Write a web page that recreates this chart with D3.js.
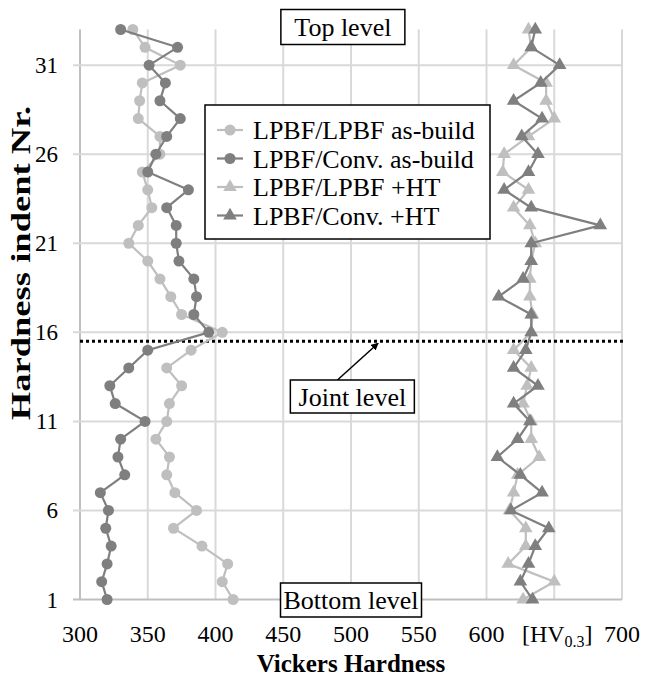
<!DOCTYPE html>
<html><head><meta charset="utf-8">
<script src="https://cdn.jsdelivr.net/npm/d3@7"></script>
<style>body{margin:0;background:#fff}svg{display:block}text{font-family:"Liberation Serif","Times New Roman",serif}</style>
</head><body>
<svg id="c" width="646" height="678"></svg>
<script>
const indentNr = [1,2,3,4,5,6,7,8,9,10,11,12,13,14,15,16,17,18,19,20,21,22,23,24,25,26,27,28,29,30,31,32,33];
const lpbfLpbfAsBuild = [413,405,409,390,369,386,370,364,366,356,364,366,375,364,382,405,375,367,359,350,336,343,353,350,346,359,359,343,344,346,374,348,339];
const lpbfConvAsBuild = [320,316,320,323,319,321,315,333,328,330,348,326,322,336,350,395,384,386,384,373,371,371,364,380,350,356,364,374,359,363,351,372,330];
const lpbfLpbfHT = [627,650,616,629,629,617,620,623,639,633,633,627,630,633,620,633,634,632,632,633,636,632,620,631,612,613,631,650,644,644,620,633,631];
const lpbfConvHT = [634,625,631,636,646,618,641,625,608,623,632,620,638,620,629,633,633,609,627,633,633,684,633,613,631,638,626,641,620,640,654,633,636];
const seriesNames = ["LPBF/LPBF as-build","LPBF/Conv. as-build","LPBF/LPBF +HT","LPBF/Conv. +HT"];
const xTicks = [300,350,400,450,500,550,600,650,700];
const yTicks = [1,6,11,16,21,26,31];
const jointLevel = 15.5;

const series = [
  {name: seriesNames[0], values: lpbfLpbfAsBuild, color:"#bfbfbf", shape:"circle"},
  {name: seriesNames[1], values: lpbfConvAsBuild, color:"#7f7f7f", shape:"circle"},
  {name: seriesNames[2], values: lpbfLpbfHT, color:"#bfbfbf", shape:"triangle"},
  {name: seriesNames[3], values: lpbfConvHT, color:"#7f7f7f", shape:"triangle"}
];

const svg = d3.select("#c");
const x = d3.scaleLinear().domain([300,700]).range([80,622]);
const y = d3.scaleLinear().domain([1,33]).range([599.5,29.5]);

// grid
svg.append("g").selectAll("line").data(xTicks).join("line")
  .attr("x1",d=>x(d)).attr("x2",d=>x(d)).attr("y1",y(33)).attr("y2",y(1))
  .attr("stroke",d=>d===300?"#bfbfbf":"#d9d9d9").attr("stroke-width",2);
svg.append("g").selectAll("line").data(yTicks).join("line")
  .attr("x1",x(300)-7).attr("x2",x(700)).attr("y1",d=>y(d)).attr("y2",d=>y(d))
  .attr("stroke",d=>d===1?"#bfbfbf":"#d9d9d9").attr("stroke-width",2);

// tick labels
svg.append("g").selectAll("text").data(yTicks).join("text")
  .attr("x",x(300)-22).attr("y",d=>y(d)).attr("dy","0.35em")
  .attr("text-anchor","end").attr("font-size",23).text(d=>d);
const xt = svg.append("g").selectAll("text").data(xTicks).join("text")
  .attr("x",d=>x(d)).attr("y",642).attr("text-anchor","middle").attr("font-size",24);
xt.each(function(d){
  const t = d3.select(this);
  if(d===650){
    t.attr("x",x(d)+3);
    t.append("tspan").text("[HV");
    t.append("tspan").attr("font-size",16).attr("dy",5).text("0.3");
    t.append("tspan").attr("dy",-5).text("]");
  } else t.text(d);
});

// titles
svg.append("text").attr("x",351).attr("y",672).attr("text-anchor","middle")
  .attr("font-size",25).attr("font-weight","bold").text("Vickers Hardness");
svg.append("text").attr("transform","translate(30,263) rotate(-90) scale(1.38,1)").attr("text-anchor","middle")
  .attr("font-size",26.5).attr("font-weight","bold").text("Hardness indent Nr.");

// joint line
svg.append("line").attr("x1",x(300)).attr("x2",x(700)+3).attr("y1",y(jointLevel)).attr("y2",y(jointLevel))
  .attr("stroke","#000").attr("stroke-width",3).attr("stroke-dasharray","3,3");

// series
const tri = d3.symbol().type(d3.symbolTriangle).size(80);
series.forEach(s=>{
  const pts = s.values.map((v,i)=>[v,indentNr[i]]);
  svg.append("path").datum(pts)
    .attr("d",d3.line().x(d=>x(d[0])).y(d=>y(d[1])))
    .attr("fill","none").attr("stroke",s.color).attr("stroke-width",2.2);
  const g = svg.append("g");
  if(s.shape==="circle"){
    g.selectAll("circle").data(pts).join("circle")
      .attr("cx",d=>x(d[0])).attr("cy",d=>y(d[1])).attr("r",5.5).attr("fill",s.color);
  } else {
    g.selectAll("path").data(pts).join("path")
      .attr("d",tri).attr("transform",d=>`translate(${x(d[0])},${y(d[1])})`).attr("fill",s.color);
  }
});

// arrow
const defs = svg.append("defs");
defs.append("marker").attr("id","ah").attr("viewBox","0 0 10 10").attr("refX",9).attr("refY",5)
  .attr("markerWidth",5).attr("markerHeight",5).attr("orient","auto")
  .append("path").attr("d","M0,0L10,5L0,10z").attr("fill","#000");
svg.append("line").attr("x1",x(490)).attr("y1",380).attr("x2",x(520)).attr("y2",y(jointLevel)+2)
  .attr("stroke","#000").attr("stroke-width",1.5).attr("marker-end","url(#ah)");

// text boxes
function box(cx, cy, w, h, label){
  svg.append("rect").attr("x",cx-w/2).attr("y",cy-h/2).attr("width",w).attr("height",h)
    .attr("fill","#fff").attr("stroke","#000").attr("stroke-width",1.5);
  svg.append("text").attr("x",cx).attr("y",cy).attr("dy","0.35em")
    .attr("text-anchor","middle").attr("font-size",26).text(label);
}
box(x(494), 27, 124, 35, "Top level");
box(x(501), 396.5, 124, 33, "Joint level");
box(x(500), 600, 141, 34, "Bottom level");

// legend
const lg = svg.append("g").attr("transform","translate(205,105)");
lg.append("rect").attr("width",285).attr("height",134).attr("fill","#fff").attr("stroke","#000").attr("stroke-width",1.5);
series.forEach((s,i)=>{
  const yy = 25 + i*28.5;
  lg.append("line").attr("x1",12).attr("x2",38).attr("y1",yy).attr("y2",yy).attr("stroke",s.color).attr("stroke-width",2.2);
  if(s.shape==="circle") lg.append("circle").attr("cx",25).attr("cy",yy).attr("r",5.5).attr("fill",s.color);
  else lg.append("path").attr("d",tri).attr("transform",`translate(25,${yy})`).attr("fill",s.color);
  lg.append("text").attr("x",48).attr("y",yy).attr("dy","0.35em").attr("font-size",26).text(s.name);
});
</script>
</body></html>
